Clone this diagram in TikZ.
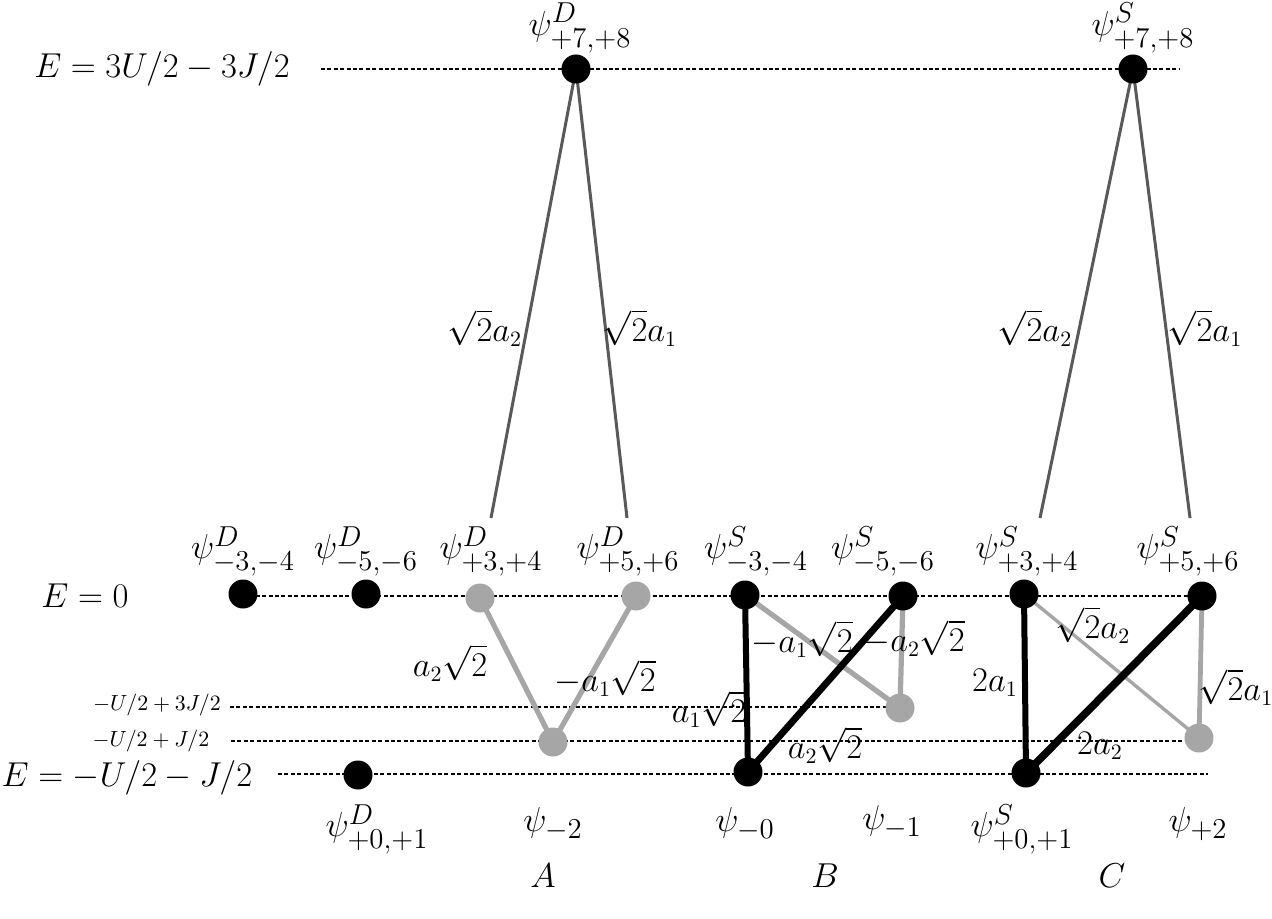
\documentclass[tikz,border=0pt]{standalone}
\usepackage{amsmath}
\begin{document}
\begin{tikzpicture}[x=0.5pt,y=-0.5pt,
  lbl/.style={inner sep=0pt,font=\fontsize{19}{21}\selectfont},
  elbl/.style={inner sep=0pt,font=\fontsize{16}{18}\selectfont},
  lvlbl/.style={inner sep=0pt,font=\fontsize{16.8}{19}\selectfont},
  small/.style={inner sep=0pt,font=\fontsize{11}{13}\selectfont},
  lvl/.style={line width=0.7pt,dash pattern=on 2pt off 1.2pt},
  bdot/.style={circle,fill=black,inner sep=0pt,minimum size=14.5pt},
  gdot/.style={circle,fill=lgray,inner sep=0pt,minimum size=14.5pt},
  topedge/.style={draw=dgray,line width=1.5pt},
  gedge/.style={draw=lgray,line width=2.6pt},
  kedge/.style={draw=black,line width=3pt}]
\definecolor{dgray}{RGB}{89,89,89}
\definecolor{lgray}{RGB}{166,166,166}
\useasboundingbox (0,0) rectangle (1272,919);

% level labels
\node[lvlbl] (E1) at (162,69) {$E = 3U/2 - 3J/2$};
\node[lvlbl] (E2) at (85,596) {$E = 0$};
\node[small] (E3) at (157,705) {$-U/2+3J/2$};
\node[small] (E4) at (151,741) {$-U/2+J/2$};
\node[lvlbl] (E5) at (127,778) {$E = -U/2 - J/2$};

% level lines
\coordinate (l1a) at (321,69);  \coordinate (l1b) at (1180,69);
\coordinate (l2a) at (243,596); \coordinate (l2b) at (1205,596);
\coordinate (l3a) at (230,707); \coordinate (l3b) at (895,707);
\coordinate (l4a) at (231,741); \coordinate (l4b) at (1200,741);
\coordinate (l5a) at (278,774); \coordinate (l5b) at (1208,774);
\draw[lvl] (l1a) -- (l1b);
\draw[lvl] (l2a) -- (l2b);
\draw[lvl] (l3a) -- (l3b);
\draw[lvl] (l4a) -- (l4b);
\draw[lvl] (l5a) -- (l5b);

% state positions
\coordinate (pD78) at (576,69);
\coordinate (pS78) at (1133,69);
\coordinate (pDm34) at (243,594);
\coordinate (pDm56) at (366,594);
\coordinate (pDp34) at (480,598);
\coordinate (pDp56) at (636,596);
\coordinate (pSm34) at (745,595);
\coordinate (pSm56) at (903,596);
\coordinate (pSp34) at (1024,594);
\coordinate (pSp56) at (1202,596);
\coordinate (pm1) at (900,708);
\coordinate (pm2) at (553,742);
\coordinate (pp2) at (1199,738);
\coordinate (pD01) at (358,775);
\coordinate (pm0) at (748,772);
\coordinate (pS01) at (1026,773);

% free ends of the upper connectors
\coordinate (eDa) at (491,518);
\coordinate (eDb) at (627,518);
\coordinate (eSa) at (1040,518);
\coordinate (eSb) at (1190,518);

% edges
\draw[topedge] (pD78) -- (eDa);
\draw[topedge] (pD78) -- (eDb);
\draw[topedge] (pS78) -- (eSa);
\draw[topedge] (pS78) -- (eSb);

\draw[gedge] (pDp34) -- (pm2);
\draw[gedge] (pDp56) -- (pm2);

\draw[gedge] (pSm34) -- (pm1);
\draw[gedge] (pSm56) -- (pm1);
\draw[kedge] (pm0) -- (pSm34);
\draw[kedge,line width=3.4pt] (pm0) -- (pSm56);

\draw[draw=lgray,line width=1.7pt] (pSp34) -- (pp2);
\draw[gedge,line width=2.4pt] (pSp56) -- (pp2);
\draw[kedge] (pS01) -- (pSp34);
\draw[kedge,line width=3.8pt] (pS01) -- (pSp56);

% dots
\node[bdot] (nD78) at (pD78) {};
\node[bdot] (nS78) at (pS78) {};
\node[bdot] (nDm34) at (pDm34) {};
\node[bdot] (nDm56) at (pDm56) {};
\node[gdot] (nDp34) at (pDp34) {};
\node[gdot] (nDp56) at (pDp56) {};
\node[bdot] (nSm34) at (pSm34) {};
\node[bdot] (nSm56) at (pSm56) {};
\node[bdot] (nSp34) at (pSp34) {};
\node[bdot] (nSp56) at (pSp56) {};
\node[gdot] (nm1) at (pm1) {};
\node[gdot] (nm2) at (pm2) {};
\node[gdot] (np2) at (pp2) {};
\node[bdot] (nD01) at (pD01) {};
\node[bdot] (nm0) at (pm0) {};
\node[bdot] (nS01) at (pS01) {};

% state labels
\node[lbl] (tD78) at (580,28) {$\psi^{D}_{+7,+8}$};
\node[lbl] (tS78) at (1143,28) {$\psi^{S}_{+7,+8}$};
\node[lbl] (tDm34) at (243,551) {$\psi^{D}_{-3,-4}$};
\node[lbl] (tDm56) at (366,551) {$\psi^{D}_{-5,-6}$};
\node[lbl] (tDp34) at (491,551) {$\psi^{D}_{+3,+4}$};
\node[lbl] (tDp56) at (628,551) {$\psi^{D}_{+5,+6}$};
\node[lbl] (tSm34) at (756,551) {$\psi^{S}_{-3,-4}$};
\node[lbl] (tSm56) at (883,551) {$\psi^{S}_{-5,-6}$};
\node[lbl] (tSp34) at (1027,551) {$\psi^{S}_{+3,+4}$};
\node[lbl] (tSp56) at (1188,551) {$\psi^{S}_{+5,+6}$};
\node[lbl] (tD01) at (377,829) {$\psi^{D}_{+0,+1}$};
\node[lbl] (tm2) at (553,824) {$\psi_{-2}$};
\node[lbl] (tm0) at (745,824) {$\psi_{-0}$};
\node[lbl] (tm1) at (892,822) {$\psi_{-1}$};
\node[lbl] (tS01) at (1022,829) {$\psi^{S}_{+0,+1}$};
\node[lbl] (tp2) at (1198,824) {$\psi_{+2}$};

% edge labels
\node[elbl] (a1) at (485,328) {$\sqrt{2}a_2$};
\node[elbl] (a2) at (640,328) {$\sqrt{2}a_1$};
\node[elbl] (a3) at (1035,328) {$\sqrt{2}a_2$};
\node[elbl] (a4) at (1205,328) {$\sqrt{2}a_1$};
\node[elbl] (a5) at (450,663) {$a_2\sqrt{2}$};
\node[elbl] (a6) at (605,678) {$-a_1\sqrt{2}$};
\node[elbl] (a7) at (802,639) {$-a_1\sqrt{2}$};
\node[elbl] (a8) at (914,638) {$-a_2\sqrt{2}$};
\node[elbl] (a9) at (709,709) {$a_1\sqrt{2}$};
\node[elbl] (a10) at (825,745) {$a_2\sqrt{2}$};
\node[elbl] (a11) at (1093,625) {$\sqrt{2}a_2$};
\node[elbl] (a12) at (995,683) {$2a_1$};
\node[elbl] (a13) at (1236,687) {$\sqrt{2}a_1$};
\node[elbl] (a14) at (1100,746) {$2a_2$};

% panel letters
\node[lbl] (pA) at (543,876) {$A$};
\node[lbl] (pB) at (825,876) {$B$};
\node[lbl] (pC) at (1112,876) {$C$};
\end{tikzpicture}
\end{document}
